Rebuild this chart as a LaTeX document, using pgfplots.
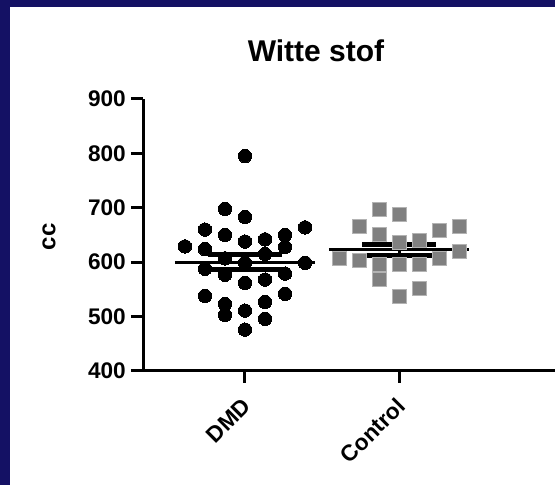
\documentclass[border=0pt]{standalone}
\usepackage{pgfplots}
\pgfplotsset{compat=1.18}
\usepackage{fontspec}
\setmainfont{Liberation Sans}
\definecolor{navyframe}{RGB}{20,17,100}
\definecolor{ctrlgray}{RGB}{128,128,128}
\begin{document}
\begin{tikzpicture}
\useasboundingbox (0,0) rectangle (555bp,485bp);
\fill[navyframe] (0,0) rectangle (555bp,485bp);
\fill[white] (9.5bp,0) rectangle (555bp,477.5bp);
\node[anchor=base, inner sep=0, font=\fontsize{30bp}{36bp}\selectfont\bfseries] at (316bp,423.3bp) {Witte stof};
\begin{axis}[
  at={(143bp,114bp)}, anchor=south west,
  scale only axis, width=412bp, height=272bp,
  xmin=0.3377, xmax=3.013, ymin=400, ymax=900,
  axis x line=bottom, axis y line=left,
  axis line style={line width=3bp, -},
  every tick/.style={line width=3bp, black},
  tick align=outside, major tick length=12bp,
  xtick={1,2}, xticklabels={DMD,Control},
  ytick={400,500,600,700,800,900},
  /pgf/number format/assume math mode=true,
  tick label style={font=\fontsize{22.6bp}{26bp}\selectfont\bfseries, inner sep=0},
  yticklabel style={anchor=east, xshift=-5bp},
  xticklabel style={yshift=-19bp, xshift=2bp, rotate=45, anchor=east},
  ylabel={cc},
  ylabel style={at={(axis description cs:-0.228,0.493)}, anchor=center, rotate=0, inner sep=0,
    font=\fontsize{24bp}{28bp}\selectfont\bfseries},
]
% DMD
\addplot[only marks, mark=*, mark size=6.7bp, mark options={fill=black, draw=black, line width=0pt}] coordinates {
(1.00,795) (0.87,698) (1.00,683) (0.74,660) (1.39,664) (0.87,650) (1.00,638) (1.13,642)
(1.26,650) (0.61,629) (0.74,624) (1.26,628) (1.13,615) (0.87,607) (1.00,599) (1.39,599)
(0.74,588) (0.87,577) (1.26,579) (1.00,562) (1.13,568) (0.74,538) (1.26,542) (0.87,523)
(1.13,527) (0.87,503) (1.00,511) (1.13,496) (1.00,476)
};
% Control
\addplot[only marks, mark=square*, mark size=7bp, mark options={fill=ctrlgray, draw=ctrlgray!60, line width=0.5bp}] coordinates {
(1.87,698) (2.00,689) (1.74,666) (2.39,667) (2.26,658) (1.87,652) (2.00,637) (2.13,640)
(1.61,608) (1.74,603) (1.87,597) (2.00,597) (2.13,597) (2.26,608) (2.39,621) (1.87,569)
(2.13,553) (2.00,537)
};
% mean lines
\addplot[black, line width=3bp] coordinates {(0.545,599) (1.455,599)};
\addplot[black, line width=3bp] coordinates {(1.545,623) (2.455,623)};
% SEM
\addplot[black, line width=3bp] coordinates {(1,587) (1,614)};
\addplot[black, line width=5bp] coordinates {(0.76,614) (1.24,614)};
\addplot[black, line width=5bp] coordinates {(0.76,587) (1.24,587)};
\addplot[black, line width=3bp] coordinates {(2,612) (2,632)};
\addplot[black, line width=5bp] coordinates {(1.76,632) (2.24,632)};
\addplot[black, line width=5bp] coordinates {(1.76,612) (2.24,612)};
\end{axis}
\end{tikzpicture}
\end{document}
